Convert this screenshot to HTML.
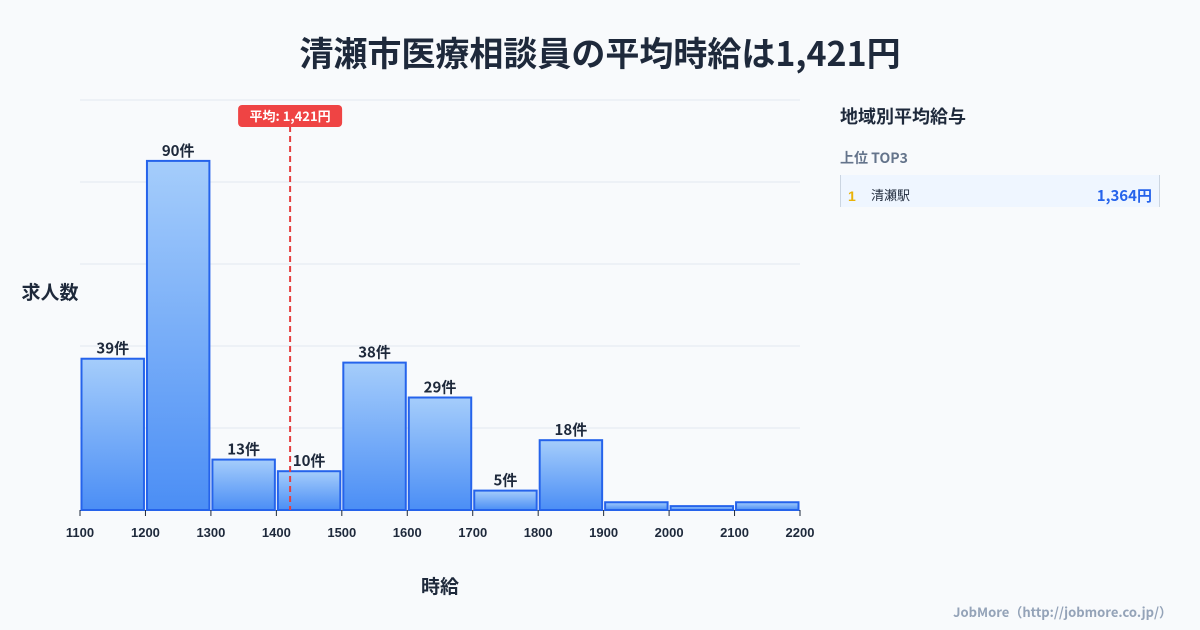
<!DOCTYPE html>
<html><head><meta charset="utf-8"><style>
body{margin:0;background:#f8fafc;font-family:"Liberation Sans","Noto Sans CJK JP",sans-serif;}
#wrap{position:relative;width:1200px;height:630px;overflow:hidden;background:#f8fafc}
</style></head><body>
<div id="wrap">
<svg id="svg" width="1200" height="630" style="position:absolute;left:0;top:0">
<defs><linearGradient id="g" x1="0" y1="0" x2="0" y2="1"><stop offset="0" stop-color="#a5cdfb"/><stop offset="1" stop-color="#4b8ef5"/></linearGradient></defs>
<text x="600" y="66" text-anchor="middle" font-size="34" font-weight="bold" fill="#1e293b" style="font-family:'Noto Sans CJK JP',sans-serif">清瀬市医療相談員の平均時給は1,421円</text>
<text x="50" y="299" text-anchor="middle" font-size="19" font-weight="bold" fill="#1e293b" style="font-family:'Noto Sans CJK JP',sans-serif">求人数</text>
<text x="440" y="593" text-anchor="middle" font-size="19" font-weight="bold" fill="#1e293b" style="font-family:'Noto Sans CJK JP',sans-serif">時給</text>
<g id="grid"></g><g id="bars"></g><g id="ticks"></g><g id="avg"></g>
<text x="840" y="123" font-size="18" font-weight="bold" fill="#1e293b" style="font-family:'Noto Sans CJK JP',sans-serif">地域別平均給与</text>
<text x="840" y="163" font-size="14" font-weight="bold" fill="#64748b" style="font-family:'Noto Sans CJK JP',sans-serif">上位 TOP3</text>
<g>
<rect x="840" y="175" width="320" height="32" fill="#eff6ff"/>
<rect x="840" y="175" width="1" height="32" fill="#cbd5e1"/><rect x="1159" y="175" width="1" height="32" fill="#cbd5e1"/>
<text x="848" y="201" font-size="14" font-weight="bold" fill="#eab308">1</text>
<text x="871" y="200" font-size="13" fill="#1e293b" style="font-family:'Noto Sans CJK JP',sans-serif">清瀬駅</text>
<text x="1152" y="201" text-anchor="end" font-size="15" font-weight="bold" fill="#2563eb" style="font-family:'Noto Sans CJK JP',sans-serif">1,364円</text>
</g>
<text x="1172" y="617" text-anchor="end" font-size="13" font-weight="bold" fill="#94a3b8" style="font-family:'Noto Sans CJK JP',sans-serif">JobMore（http://jobmore.co.jp/）</text>
</svg>
</div>
<script>
const binStarts=[1100,1200,1300,1400,1500,1600,1700,1800,1900,2000,2100];
const counts=[39,90,13,10,38,29,5,18,2,1,2];
const xTicks=[1100,1200,1300,1400,1500,1600,1700,1800,1900,2000,2100,2200];
const avgWage=1421;
const avgLabel="平均: 1,421円";
const NS="http://www.w3.org/2000/svg";
const x0=80,x1=800,xmin=1100,xmax=2200,yb=510,yt=100,ymax=105.7;
const X=v=>x0+(v-xmin)/(xmax-xmin)*(x1-x0);
const Y=v=>yb-v/ymax*(yb-yt);
function mk(t,a,p){const e=document.createElementNS(NS,t);for(const k in a)e.setAttribute(k,a[k]);p.appendChild(e);return e;}
const grid=document.getElementById('grid');
for(let i=0;i<=5;i++){const y=yt+i*(yb-yt)/5;const l=mk('line',{x1:x0,x2:x1,y1:y,y2:y,stroke:'#e2e8f0','stroke-width':1},grid);

}
const bars=document.getElementById('bars');
binStarts.forEach((b,i)=>{const xa=X(b)+1.5,xb=X(b+100)-1.5,y=Y(counts[i]);
const r=mk('rect',{x:xa,y:y,width:xb-xa,height:yb-y,fill:'url(#g)',stroke:'#2563eb','stroke-width':2},bars);


if(counts[i]>=5){const t=mk('text',{x:(xa+xb)/2,y:y-5,'text-anchor':'middle','font-size':15,'font-weight':'bold',fill:'#1e293b',style:"font-family:'Noto Sans CJK JP',sans-serif"},bars);t.textContent=counts[i]+'件';

}});
const tk=document.getElementById('ticks');
xTicks.forEach(v=>{const l=mk('line',{x1:X(v),x2:X(v),y1:yb,y2:yb+6,stroke:'#1e293b','stroke-width':1},tk);


const t=mk('text',{x:X(v),y:537,'text-anchor':'middle','font-size':13,'font-weight':'bold',fill:'#1e293b'},tk);t.textContent=v;

});
const av=document.getElementById('avg');const ax=X(avgWage);
const al=mk('line',{x1:ax,x2:ax,y1:126,y2:yb,stroke:'#e53e3e','stroke-width':2,'stroke-dasharray':'6,4'},av);


const ab=mk('rect',{x:ax-52,y:105,width:104,height:22,rx:4,fill:'#ef4444'},av);


const at=mk('text',{x:ax,y:121,'text-anchor':'middle','font-size':13,'font-weight':'bold',fill:'#fff',style:"font-family:'Noto Sans CJK JP',sans-serif"},av);at.textContent=avgLabel;


</script>
</body></html>
